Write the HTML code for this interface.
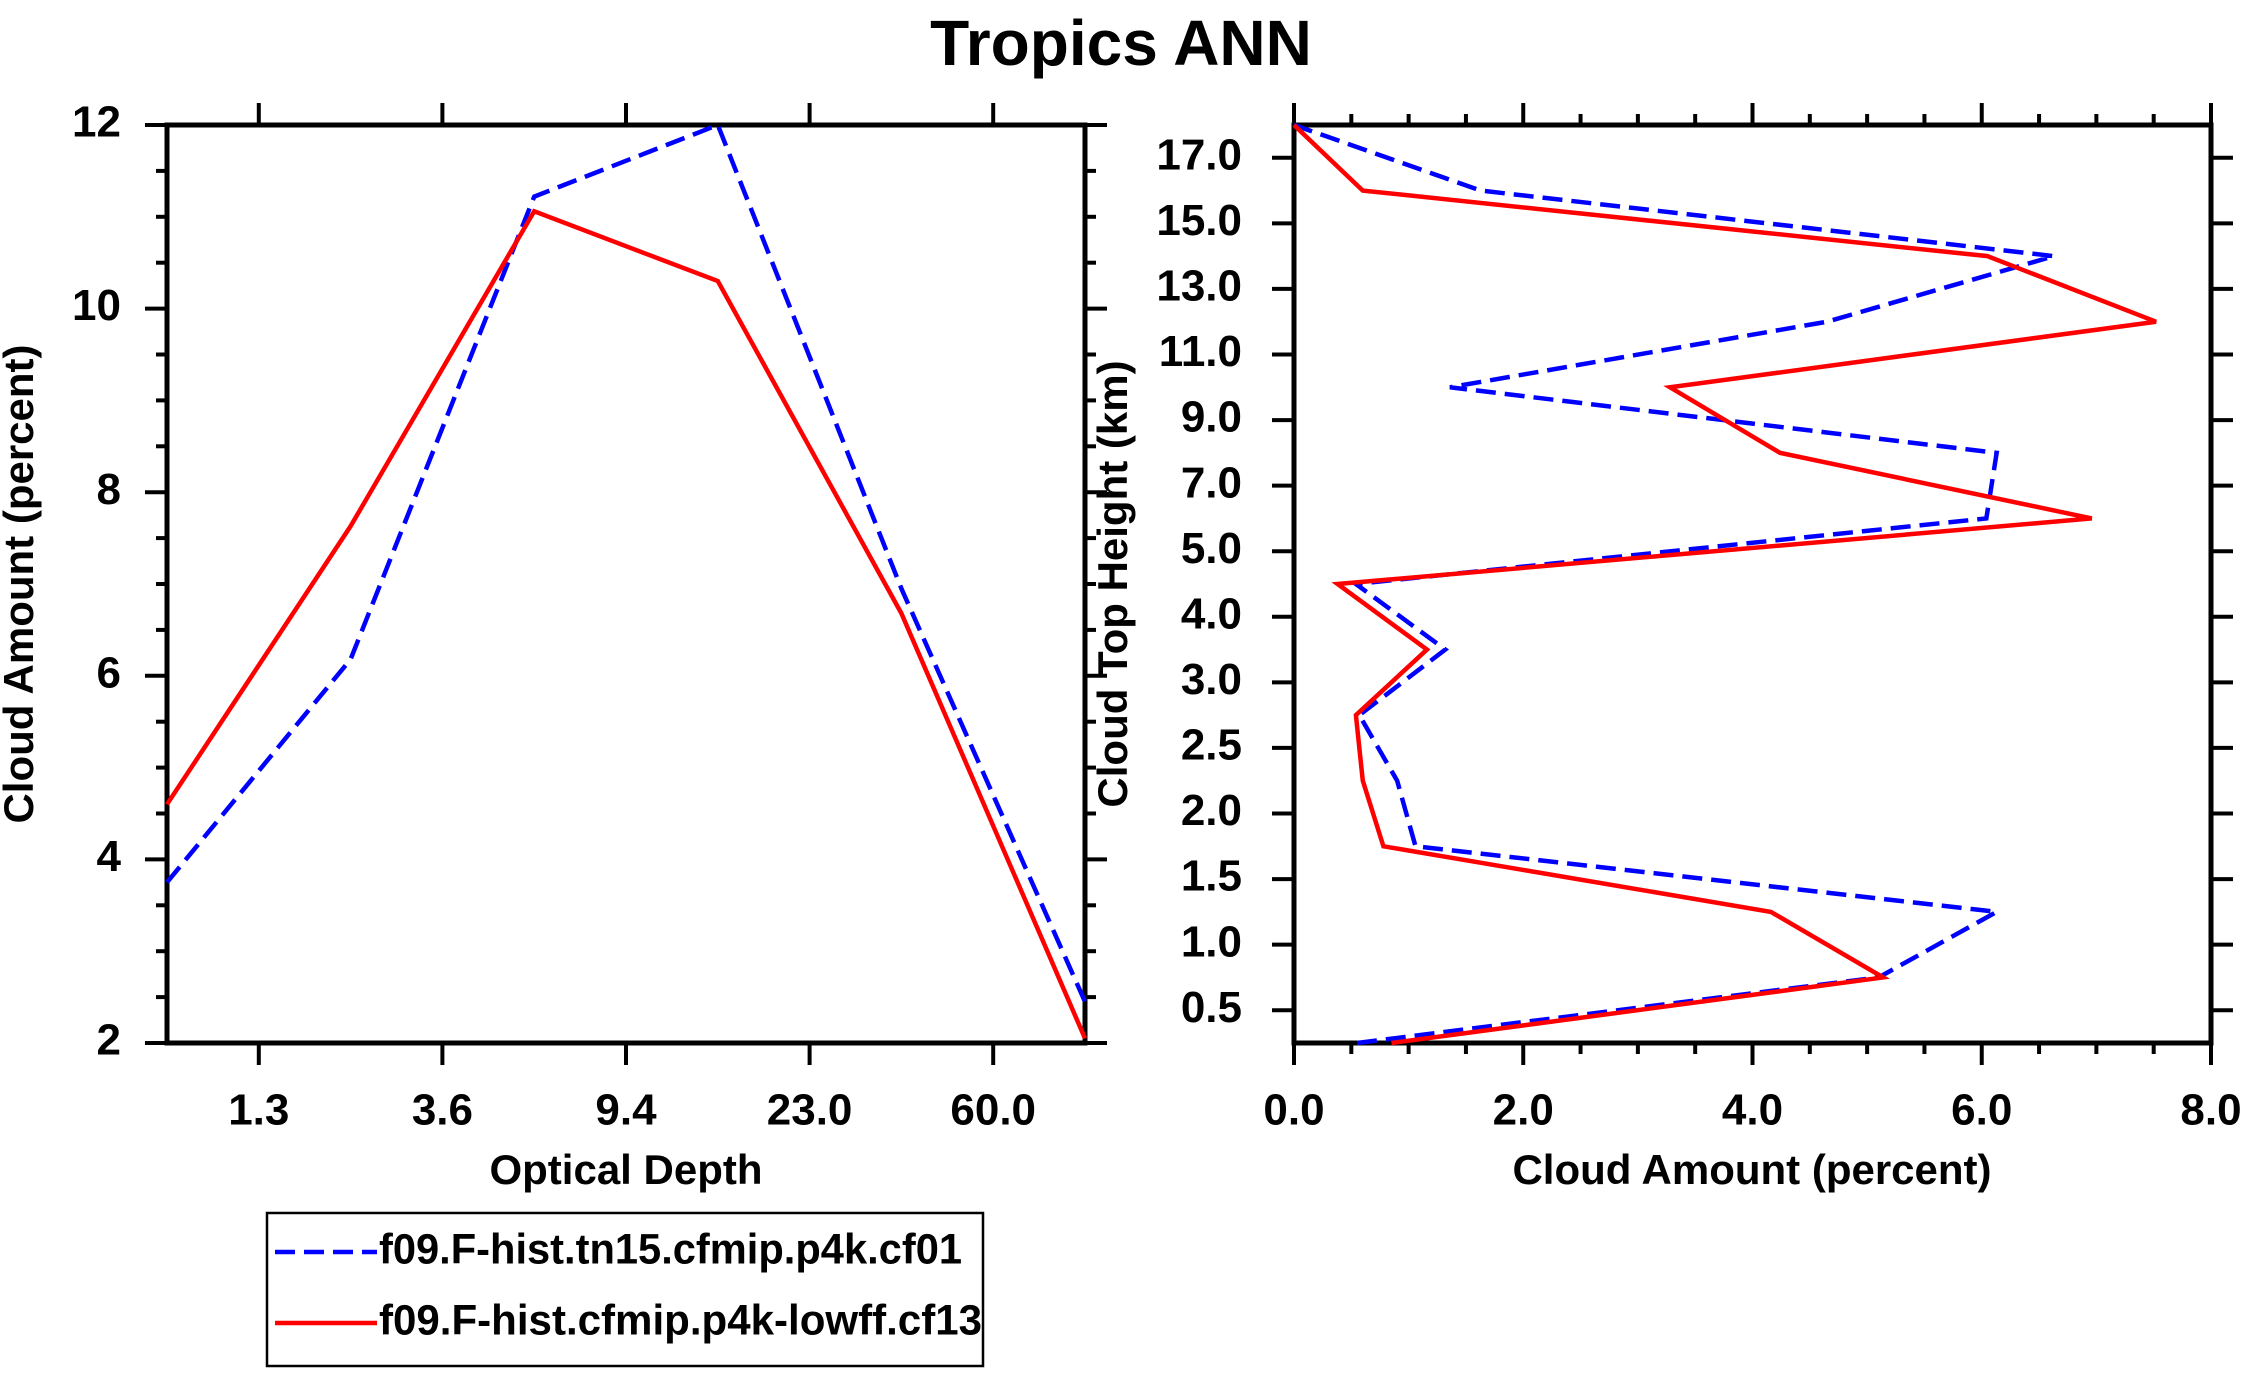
<!DOCTYPE html>
<html><head><meta charset="utf-8"><style>
html,body{margin:0;padding:0;background:#fff}
svg{display:block;font-family:"Liberation Sans",Arial,sans-serif;font-weight:bold}
</style></head><body>
<svg id="chart" width="2243" height="1373" viewBox="0 0 2243 1373" xmlns="http://www.w3.org/2000/svg">
<text x="1121" y="48" font-size="64" text-anchor="middle" dominant-baseline="middle">Tropics ANN</text>
<g id="left"></g>
<g id="right"></g>
<g>
<rect x="267" y="1213" width="716" height="153" fill="none" stroke="#000" stroke-width="2.5"/>
<line x1="275" y1="1252" x2="377" y2="1252" stroke="#0000ff" stroke-width="4.5" stroke-dasharray="20,9"/>
<text x="379" y="1252" font-size="43" dominant-baseline="middle" textLength="583" lengthAdjust="spacingAndGlyphs">f09.F-hist.tn15.cfmip.p4k.cf01</text>
<line x1="275" y1="1323" x2="377" y2="1323" stroke="#ff0000" stroke-width="4.5"/>
<text x="379" y="1323" font-size="43" dominant-baseline="middle" textLength="603" lengthAdjust="spacingAndGlyphs">f09.F-hist.cfmip.p4k-lowff.cf13</text>
</g>
</svg>
<script>
const leftXLabels = ["1.3","3.6","9.4","23.0","60.0"];
const leftYTicks = [2,4,6,8,10,12];
const leftBlue = [3.75,6.18,11.22,12.0,6.95,2.45];
const leftRed = [4.6,7.63,11.06,10.3,6.68,2.05];
const rightYLabels = ["0.5","1.0","1.5","2.0","2.5","3.0","4.0","5.0","7.0","9.0","11.0","13.0","15.0","17.0"];
const rightXTicks = [0,2,4,6,8];
const rightBlue = [0.55,5.1,6.13,1.06,0.9,0.57,1.32,0.54,6.04,6.13,1.36,4.65,6.63,1.63,0];
const rightRed = [0.85,5.14,4.16,0.78,0.6,0.54,1.16,0.38,6.96,4.24,3.28,7.52,6.05,0.6,0];

const NS="http://www.w3.org/2000/svg";
function mk(parent,tag,attrs){const e=document.createElementNS(NS,tag);for(const k in attrs)e.setAttribute(k,attrs[k]);parent.appendChild(e);return e;}
const T=125,B=1043;
const FS=44, FT=42;

(function(){
 const g=document.getElementById('left');
 const L=167,R=1085;
 const xs=i=>L+(R-L)*i/5;
 const ys=v=>B-(B-T)*(v-2)/10;
 for(let v=2;v<=12.001;v+=0.5){
  const major=Math.abs(v-Math.round(v/2)*2)<1e-6;
  const len=major?22:11;
  let t=mk(g,'line',{x1:L,y1:ys(v),x2:L-len,y2:ys(v),stroke:'#000','stroke-width':4});
  
  
  t=mk(g,'line',{x1:R,y1:ys(v),x2:R+len,y2:ys(v),stroke:'#000','stroke-width':4});
  
  
 }
 leftYTicks.forEach(v=>{
  const t=mk(g,'text',{x:L-46,y:ys(v),'font-size':FS,'text-anchor':'end','dominant-baseline':'middle'});
  t.textContent=v;
  
  
 });
 leftXLabels.forEach((s,i)=>{
  const x=xs(i+0.5);
  let t=mk(g,'line',{x1:x,y1:B,x2:x,y2:B+22,stroke:'#000','stroke-width':4});
  
  
  t=mk(g,'line',{x1:x,y1:T,x2:x,y2:T-22,stroke:'#000','stroke-width':4});
  
  
  const lb=mk(g,'text',{x:x,y:1113,'font-size':FS,'text-anchor':'middle','dominant-baseline':'middle'});
  lb.textContent=s;
  
  
 });
 const fr=mk(g,'rect',{x:L,y:T,width:R-L,height:B-T,fill:'none',stroke:'#000','stroke-width':5});
 
 
 const bl=mk(g,'polyline',{points:leftBlue.map((v,i)=>xs(i)+','+ys(v)).join(' '),fill:'none',stroke:'#0000ff','stroke-width':4.5,'stroke-dasharray':'20,9'});
 
 
 const rd=mk(g,'polyline',{points:leftRed.map((v,i)=>xs(i)+','+ys(v)).join(' '),fill:'none',stroke:'#ff0000','stroke-width':4.5});
 
 
 const xt=mk(g,'text',{x:626,y:1173,'font-size':FT,'text-anchor':'middle','dominant-baseline':'middle'});
 xt.textContent='Optical Depth';
 
 
 const yt=mk(g,'text',{x:0,y:0,'font-size':FT,'text-anchor':'middle','dominant-baseline':'middle',transform:'translate(22,584) rotate(-90)'});
 yt.textContent='Cloud Amount (percent)';
 
 
})();

(function(){
 const g=document.getElementById('right');
 const L=1294,R=2211;
 const xs=v=>L+(R-L)*v/8;
 const ys=i=>B-(B-T)*i/14;
 for(let v=0;v<=8.001;v+=0.5){
  const major=Math.abs(v-Math.round(v/2)*2)<1e-6;
  const len=major?22:11;
  let t=mk(g,'line',{x1:xs(v),y1:B,x2:xs(v),y2:B+len,stroke:'#000','stroke-width':4});
  
  
  t=mk(g,'line',{x1:xs(v),y1:T,x2:xs(v),y2:T-len,stroke:'#000','stroke-width':4});
  
  
 }
 rightXTicks.forEach(v=>{
  const t=mk(g,'text',{x:xs(v),y:1113,'font-size':FS,'text-anchor':'middle','dominant-baseline':'middle'});
  t.textContent=v.toFixed(1);
  
  
 });
 rightYLabels.forEach((s,i)=>{
  const y=ys(i+0.5);
  let t=mk(g,'line',{x1:L,y1:y,x2:L-22,y2:y,stroke:'#000','stroke-width':4});
  
  
  t=mk(g,'line',{x1:R,y1:y,x2:R+22,y2:y,stroke:'#000','stroke-width':4});
  
  
  const lb=mk(g,'text',{x:1242,y:y,'font-size':FS,'text-anchor':'end','dominant-baseline':'middle'});
  lb.textContent=s;
  
  
 });
 const fr=mk(g,'rect',{x:L,y:T,width:R-L,height:B-T,fill:'none',stroke:'#000','stroke-width':5});
 
 
 const bl=mk(g,'polyline',{points:rightBlue.map((v,i)=>xs(v)+','+ys(i)).join(' '),fill:'none',stroke:'#0000ff','stroke-width':4.5,'stroke-dasharray':'20,9'});
 
 
 const rd=mk(g,'polyline',{points:rightRed.map((v,i)=>xs(v)+','+ys(i)).join(' '),fill:'none',stroke:'#ff0000','stroke-width':4.5});
 
 
 const xt=mk(g,'text',{x:1752,y:1173,'font-size':FT,'text-anchor':'middle','dominant-baseline':'middle'});
 xt.textContent='Cloud Amount (percent)';
 
 
 const yt=mk(g,'text',{x:0,y:0,'font-size':FT,'text-anchor':'middle','dominant-baseline':'middle',transform:'translate(1116,584) rotate(-90)'});
 yt.textContent='Cloud Top Height (km)';
 
 
})();
</script>
</body></html>
